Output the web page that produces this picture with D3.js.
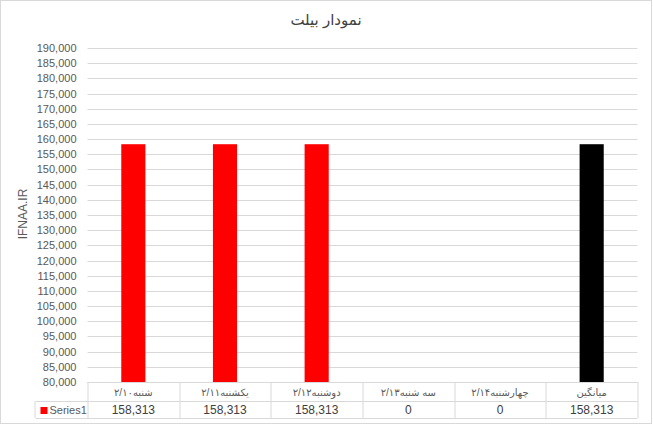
<!DOCTYPE html>
<html>
<head>
<meta charset="utf-8">
<script src="https://cdn.jsdelivr.net/npm/d3@7"></script>
<style>
  body { margin: 0; background: #fff; }
  text { font-family: "Liberation Sans", "DejaVu Sans", sans-serif; }
</style>
</head>
<body>
<div id="chart"></div>
<script>
// chart data
const categories = ["شنبه۲/۱۰", "یکشنبه۲/۱۱", "دوشنبه۲/۱۲", "سه شنبه۲/۱۳", "چهارشنبه۲/۱۴", "میانگین"];
const values = [158313, 158313, 158313, 0, 0, 158313];
const barColors = ["#ff0000", "#ff0000", "#ff0000", "#ff0000", "#ff0000", "#000000"];
const seriesName = "Series1";
const yTicks = d3.range(80000, 190001, 5000);
const chartTitle = "نمودار بیلت";
const axisTitle = "IFNAA.IR";

const W = 653, H = 427;
const margin = { top: 48, left: 87.5 };
const plotW = 550, plotH = 334;

const svg = d3.select("#chart").append("svg")
    .attr("width", W)
    .attr("height", H);

svg.append("rect")
    .attr("width", W).attr("height", H)
    .attr("fill", "#fff");

// outer chart border
svg.append("rect")
    .attr("x", 0.5).attr("y", 0.5)
    .attr("width", 651).attr("height", 423)
    .attr("fill", "none")
    .attr("stroke", "#d9d9d9");

// title
svg.append("text")
    .attr("x", 326)
    .attr("y", 25)
    .attr("text-anchor", "middle")
    .attr("font-family", "DejaVu Sans")
    .attr("font-size", 15)
    .attr("fill", "#404040")
    .text(chartTitle);

const g = svg.append("g")
    .attr("transform", "translate(" + margin.left + "," + margin.top + ")");

// scales
const x = d3.scaleBand()
    .domain(d3.range(categories.length))
    .range([0, plotW]);

const y = d3.scaleLinear()
    .domain([80000, 190000])
    .range([plotH, 0]);

// gridlines
g.append("g")
    .selectAll("line")
    .data(yTicks)
    .enter().append("line")
    .attr("x1", 0).attr("x2", plotW)
    .attr("y1", d => Math.round(y(d)) + 0.5)
    .attr("y2", d => Math.round(y(d)) + 0.5)
    .attr("stroke", "#d9d9d9");

// y axis labels
const yAxis = d3.axisLeft(y)
    .tickValues(yTicks)
    .tickSize(0)
    .tickPadding(11)
    .tickFormat(d3.format(","));

g.append("g")
    .attr("class", "y-axis")
    .call(yAxis)
    .call(s => s.select(".domain").remove())
    .selectAll("text")
    .attr("font-size", 11)
    .attr("font-family", "Liberation Sans")
    .attr("fill", "#595959");

// y axis title
svg.append("text")
    .attr("transform", "translate(27,214) rotate(-90)")
    .attr("text-anchor", "middle")
    .attr("font-size", 12)
    .attr("fill", "#595959")
    .text(axisTitle);

// bars (values below the axis minimum are not visible)
const barW = x.bandwidth() / 3.8;
const barData = values.map((v, i) => ({ i: i, v: v })).filter(d => d.v > y.domain()[0]);
g.append("g")
    .selectAll("rect")
    .data(barData)
    .enter().append("rect")
    .attr("x", d => x(d.i) + (x.bandwidth() - barW) / 2)
    .attr("y", d => y(d.v))
    .attr("width", barW)
    .attr("height", d => y(y.domain()[0]) - y(d.v))
    .attr("fill", d => barColors[d.i]);

// data table
const tTop = y(y.domain()[0]), tMid = tTop + 19, tBot = tTop + 36;
const table = g.append("g").attr("stroke", "#d9d9d9").attr("fill", "none");
table.append("line").attr("x1", 0).attr("x2", plotW).attr("y1", tTop + 0.5).attr("y2", tTop + 0.5);
table.append("line").attr("x1", -52).attr("x2", plotW).attr("y1", tMid + 0.5).attr("y2", tMid + 0.5);
table.append("line").attr("x1", -52).attr("x2", plotW).attr("y1", tBot + 0.5).attr("y2", tBot + 0.5);
table.append("line").attr("x1", -52.5).attr("x2", -52.5).attr("y1", tMid).attr("y2", tBot);
table.selectAll(".col")
    .data(d3.range(categories.length + 1))
    .enter().append("line")
    .attr("x1", d => Math.round(d === categories.length ? plotW : x(d)) + 0.5)
    .attr("x2", d => Math.round(d === categories.length ? plotW : x(d)) + 0.5)
    .attr("y1", tTop).attr("y2", tBot);

g.selectAll(".cat")
    .data(categories)
    .enter().append("text")
    .attr("x", (d, i) => x(i) + x.bandwidth() / 2)
    .attr("y", tTop + 14)
    .attr("text-anchor", "middle")
    .attr("font-family", "DejaVu Sans")
    .attr("font-size", 10)
    .attr("fill", "#595959")
    .text(d => d);

g.selectAll(".val")
    .data(values)
    .enter().append("text")
    .attr("x", (d, i) => x(i) + x.bandwidth() / 2)
    .attr("y", tMid + 13)
    .attr("text-anchor", "middle")
    .attr("font-size", 12)
    .attr("fill", "#404040")
    .text(d => d3.format(",")(d));

// legend key in table
g.append("rect")
    .attr("x", -47).attr("y", tMid + 6)
    .attr("width", 7).attr("height", 7)
    .attr("fill", barColors[0]);
g.append("text")
    .attr("x", -38).attr("y", tMid + 13)
    .attr("font-size", 11)
    .attr("fill", "#595959")
    .text(seriesName);
</script>
</body>
</html>
